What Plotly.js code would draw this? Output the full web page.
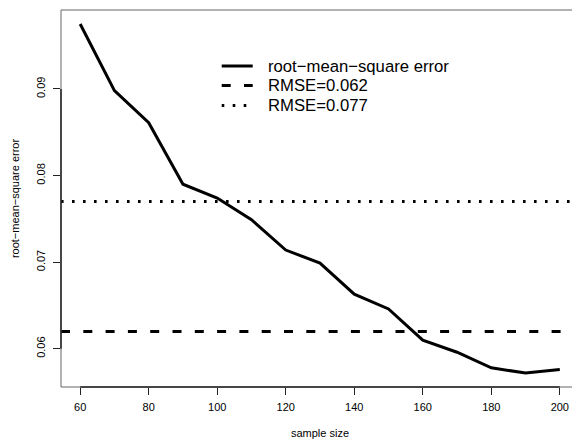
<!DOCTYPE html>
<html>
<head>
<meta charset="utf-8">
<script src="https://cdn.plot.ly/plotly-3.0.1.min.js"></script>
<style>
html,body{margin:0;padding:0;overflow:hidden;background:#fff;}
#wrap{width:572px;height:439px;overflow:hidden;}
#chart{width:590px;height:439px;}
</style>
</head>
<body>
<div id="wrap"><div id="chart"></div></div>
<script>
// Data
var sampleSize = [60, 70, 80, 90, 100, 110, 120, 130, 140, 150, 160, 170, 180, 190, 200];
var rmse = [0.0975, 0.0898, 0.0861, 0.0790, 0.0774, 0.0749, 0.0714, 0.0699, 0.0663, 0.0646, 0.0610, 0.0596, 0.0578, 0.0572, 0.0576];
var rmseLow = 0.062;
var rmseHigh = 0.077;
var xTicks = [60, 80, 100, 120, 140, 160, 180, 200];
var yTicks = [0.06, 0.07, 0.08, 0.09];
var yTickText = ["0.06", "0.07", "0.08", "0.09"];
var legendLabels = ["root\u2212mean\u2212square error", "RMSE=" + rmseLow, "RMSE=" + rmseHigh];

// R-style 4% range extension
function ext(arr){
  var mn = Math.min.apply(null, arr), mx = Math.max.apply(null, arr);
  var d = (mx - mn) * 0.04;
  return [mn - d, mx + d];
}
var xRange = ext(sampleSize);
var yRange = ext(rmse);

var font = "Liberation Sans, Arial, Helvetica, sans-serif";
var dashes = ["solid", "9px,13.3px", "2.6px,8.4px"];

var traces = [
  {x: sampleSize, y: rmse, mode: "lines", name: legendLabels[0],
   line: {color: "#000", width: 3}},
  {x: xRange, y: [rmseLow, rmseLow], mode: "lines", name: legendLabels[1],
   line: {color: "#000", width: 3, dash: dashes[1]}},
  {x: xRange, y: [rmseHigh, rmseHigh], mode: "lines", name: legendLabels[2],
   line: {color: "#000", width: 3, dash: dashes[2]}}
];

// plot-area geometry (px) for the hand-placed R-style legend
var W = 590, H = 439, mL = 61, mR = 11, mT = 10, mB = 52;
var pw = W - mL - mR, ph = H - mT - mB;
function px2x(p){ return (p - mL) / pw; }
function px2y(p){ return 1 - (p - mT) / ph; }
var legRows = [66, 85.5, 105.5];

var shapes = [
  {type: "rect", xref: "paper", yref: "paper", x0: 0, x1: 1, y0: 0, y1: 1,
   line: {color: "#666", width: 1}, layer: "above"},
  {type: "line", xref: "x", yref: "paper", x0: xTicks[0], x1: xTicks[xTicks.length-1], y0: 0, y1: 0,
   line: {color: "#222", width: 1.5}, layer: "above"},
  {type: "line", xref: "paper", yref: "y", x0: 0, x1: 0, y0: yTicks[0], y1: yTicks[yTicks.length-1],
   line: {color: "#222", width: 1.5}, layer: "above"}
];
var annotations = [];
for (var i = 0; i < legendLabels.length; i++) {
  shapes.push({type: "line", xref: "paper", yref: "paper",
    x0: px2x(221.7), x1: px2x(252.7), y0: px2y(legRows[i]), y1: px2y(legRows[i]),
    line: {color: "#000", width: 3, dash: dashes[i]}});
  annotations.push({xref: "paper", yref: "paper", x: px2x(265.5), y: px2y(legRows[i]),
    xanchor: "left", yanchor: "middle", showarrow: false, text: legendLabels[i],
    font: {family: font, size: 16.7, color: "#000"}});
}

var layout = {
  width: W, height: H,
  margin: {l: mL, r: mR, t: mT, b: mB},
  paper_bgcolor: "#fff", plot_bgcolor: "#fff",
  font: {family: font, color: "#000", size: 11},
  showlegend: false,
  xaxis: {range: xRange, tickvals: xTicks, ticks: "outside", ticklen: 7, tickwidth: 1, tickcolor: "#222",
          showgrid: false, zeroline: false, showline: false, ticklabelstandoff: 3,
          tickfont: {size: 11, family: font, color: "#000"},
          title: {text: "sample size", font: {size: 11, family: font, color: "#000"}, standoff: 19}},
  yaxis: {range: yRange, tickvals: yTicks, ticktext: yTickText, tickangle: -90,
          ticks: "outside", ticklen: 7, tickwidth: 1, tickcolor: "#222",
          showgrid: false, zeroline: false, showline: false, ticklabelstandoff: 4,
          tickfont: {size: 11, family: font, color: "#000"},
          title: {text: "root\u2212mean\u2212square error", font: {size: 11, family: font, color: "#000"}, standoff: 12}},
  shapes: shapes,
  annotations: annotations
};

Plotly.newPlot("chart", traces, layout, {displayModeBar: false, staticPlot: true});
</script>
</body>
</html>
